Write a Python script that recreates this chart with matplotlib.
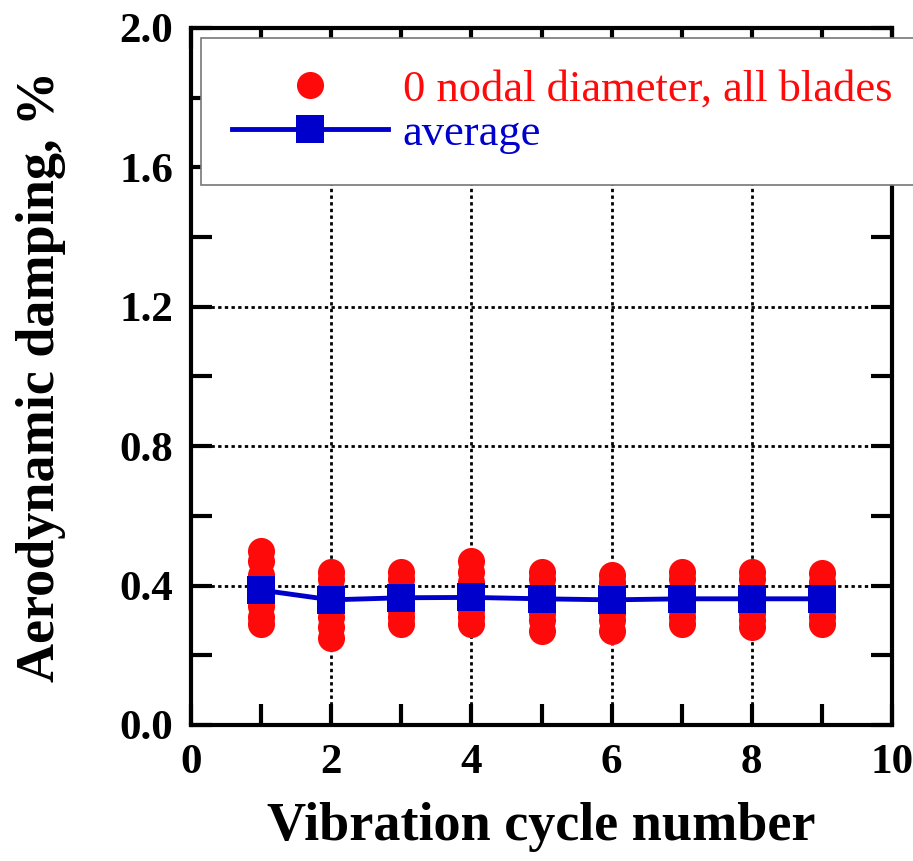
import matplotlib
matplotlib.use("Agg")
import matplotlib.pyplot as plt
from matplotlib.ticker import MultipleLocator

# damping of every blade, one list per vibration cycle
cycles = [1, 2, 3, 4, 5, 6, 7, 8, 9]
blade_damping = [
    [0.50, 0.47, 0.43, 0.40, 0.37, 0.34, 0.31, 0.29],
    [0.44, 0.42, 0.39, 0.36, 0.34, 0.31, 0.28, 0.25],
    [0.44, 0.42, 0.39, 0.37, 0.35, 0.33, 0.31, 0.29],
    [0.47, 0.44, 0.41, 0.38, 0.35, 0.33, 0.31, 0.29],
    [0.44, 0.42, 0.39, 0.37, 0.35, 0.32, 0.30, 0.27],
    [0.43, 0.41, 0.38, 0.36, 0.34, 0.32, 0.30, 0.27],
    [0.44, 0.42, 0.39, 0.37, 0.35, 0.33, 0.31, 0.29],
    [0.44, 0.42, 0.39, 0.37, 0.34, 0.32, 0.30, 0.28],
    [0.435, 0.41, 0.39, 0.37, 0.35, 0.33, 0.31, 0.29],
]
average_damping = [0.387, 0.359, 0.365, 0.366, 0.362, 0.359, 0.362, 0.362, 0.362]

RED = "#ff0a0a"
BLUE = "#0000cc"
SERIF = ["Liberation Serif", "DejaVu Serif"]

fig = plt.figure(figsize=(9.13, 8.61), dpi=100)
ax = fig.add_axes([0.2092, 0.158, 0.7678, 0.8095])

xs, ys = [], []
for c, vals in zip(cycles, blade_damping):
    xs.extend([c] * len(vals))
    ys.extend(vals)

ax.plot(xs, ys, linestyle="none", marker="o", markersize=19.5,
        color=RED, markeredgewidth=0, zorder=3,
        label="0 nodal diameter, all blades")
ax.plot(cycles, average_damping, color=BLUE, linewidth=3.5, marker="s",
        markersize=20, markeredgewidth=0, zorder=4, label="average")

ax.set_xlim(0, 10)
ax.set_ylim(0, 2.0)
ax.xaxis.set_major_locator(MultipleLocator(2))
ax.xaxis.set_minor_locator(MultipleLocator(1))
ax.yaxis.set_major_locator(MultipleLocator(0.4))
ax.yaxis.set_minor_locator(MultipleLocator(0.2))
ax.yaxis.set_major_formatter(lambda v, p: f"{v:.1f}")

ax.grid(True, which="major", color="black", linestyle=(0, (1.2, 1.2)),
        linewidth=2, zorder=1)
ax.set_axisbelow(True)

for s in ax.spines.values():
    s.set_linewidth(3)
ax.tick_params(which="both", direction="in", top=True, right=True,
               length=15, width=3, labelsize=31)
ax.tick_params(axis="y", pad=13)
ax.tick_params(axis="x", pad=14)
for lab in ax.get_xticklabels() + ax.get_yticklabels():
    lab.set_fontfamily(SERIF)
    lab.set_fontweight("bold")

ax.set_xlabel("Vibration cycle number", fontsize=39, fontweight="bold",
              fontfamily=SERIF, labelpad=14)
ax.set_ylabel("Aerodynamic damping, %", fontsize=39, fontweight="bold",
              fontfamily=SERIF, labelpad=38)

leg = fig.legend(loc="upper left", bbox_to_anchor=(0.2202, 0.9559, 0.82, 0.0),
                 mode="expand", frameon=True, fancybox=False, framealpha=1,
                 borderaxespad=0, prop={"family": SERIF, "size": 32},
                 handlelength=3.5, handletextpad=0.34, borderpad=0.7,
                 labelspacing=0.1, markerscale=1.0)
leg.get_frame().set_edgecolor("#777777")
leg.get_frame().set_linewidth(1.2)
for txt, col in zip(leg.get_texts(), [RED, BLUE]):
    txt.set_color(col)

fig.savefig("out.png", dpi=100)
